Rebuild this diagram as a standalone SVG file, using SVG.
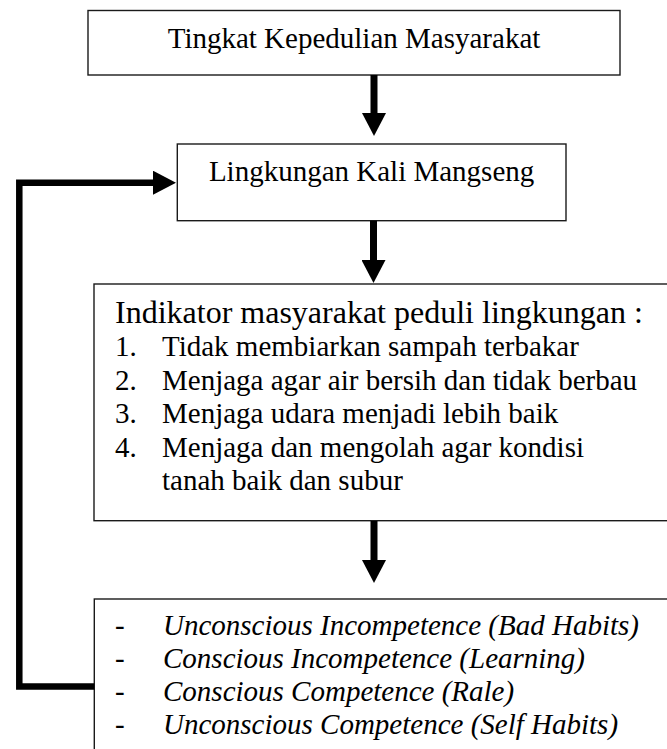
<svg xmlns="http://www.w3.org/2000/svg" width="667" height="749" viewBox="0 0 667 749">
<style>
.box{fill:#fff;stroke:#1a1a1a;stroke-width:1.4}
.t{font-family:"Liberation Serif","Times New Roman",serif;fill:#000;font-size:29px}
.h{font-size:32px}
.i{font-style:italic}
.c{text-anchor:middle}
.con{fill:none;stroke:#000;stroke-width:7;stroke-linejoin:miter}
</style>
<defs>
<marker id="ah" markerUnits="userSpaceOnUse" markerWidth="24" markerHeight="24" refX="0" refY="12" orient="auto" viewBox="0 0 24 24">
<path d="M0,0 L23,12 L0,24 Z" fill="#000"/>
</marker>
</defs>
<g id="n1">
<rect class="box" x="88" y="10.5" width="532" height="64.5"/>
<text class="t c" x="354" y="47.5">Tingkat Kepedulian Masyarakat</text>
</g>
<g id="n2">
<rect class="box" x="177.3" y="144" width="388.7" height="76.7"/>
<text class="t c" x="371.6" y="181">Lingkungan Kali Mangseng</text>
</g>
<g id="n3">
<rect class="box" x="94" y="284" width="590" height="236.7"/>
<text class="t h" x="115" y="322.5">Indikator masyarakat peduli lingkungan :</text>
<text class="t" x="115" y="356">1.</text><text class="t" x="162" y="356">Tidak membiarkan sampah terbakar</text>
<text class="t" x="115" y="389.5">2.</text><text class="t" x="162" y="389.5">Menjaga agar air bersih dan tidak berbau</text>
<text class="t" x="115" y="423">3.</text><text class="t" x="162" y="423">Menjaga udara menjadi lebih baik</text>
<text class="t" x="115" y="456.5">4.</text><text class="t" x="162" y="456.5">Menjaga dan mengolah agar kondisi</text>
<text class="t" x="162" y="490">tanah baik dan subur</text>
</g>
<g id="n4">
<rect class="box" x="94.3" y="599" width="590" height="170"/>
<text class="t" x="115" y="635">-</text><text class="t i" x="163" y="635">Unconscious Incompetence (Bad Habits)</text>
<text class="t" x="115" y="668">-</text><text class="t i" x="163" y="668">Conscious Incompetence (Learning)</text>
<text class="t" x="115" y="701">-</text><text class="t i" x="163" y="701">Conscious Competence (Rale)</text>
<text class="t" x="115" y="734">-</text><text class="t i" x="163" y="734">Unconscious Competence (Self Habits)</text>
</g>
<g id="connectors">
<line class="con" x1="374" y1="75" x2="374" y2="113" marker-end="url(#ah)"/>
<line class="con" x1="373.5" y1="220.7" x2="373.5" y2="260" marker-end="url(#ah)"/>
<line class="con" x1="374" y1="521" x2="374" y2="560" marker-end="url(#ah)"/>
<path class="con" style="stroke-width:6.5" d="M94.3,686.5 H19.3 V182.7 H153" marker-end="url(#ah)"/>
</g>
</svg>
